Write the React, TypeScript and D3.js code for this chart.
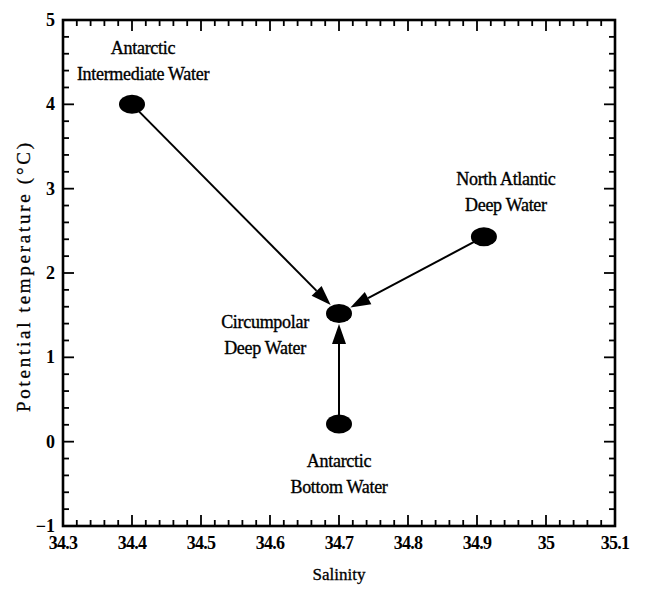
import React from "react";
import * as d3 from "d3";

// water masses: salinity, potential temperature, label lines
const names = ["AIW", "NADW", "CDW", "AABW"];
const salinity = [34.4, 34.91, 34.7, 34.7];
const theta = [4.0, 2.43, 1.52, 0.21];
const labelLines = [
  ["Antarctic", "Intermediate Water"],
  ["North Atlantic", "Deep Water"],
  ["Circumpolar", "Deep Water"],
  ["Antarctic", "Bottom Water"],
];
// label anchor offsets (in px from the point)
const labelDx = [11, 22, -74, 0];
const labelDy = [-50, -52, 15, 43];

// arrows: from -> to (indexes into the arrays above)
const arrowFrom = [0, 1, 3];
const arrowTo = [2, 2, 2];

const xTicks = [34.3, 34.4, 34.5, 34.6, 34.7, 34.8, 34.9, 35, 35.1];
const yTicks = [-1, 0, 1, 2, 3, 4, 5];

const W = 647;
const H = 589;
const left = 63;
const right = 615;
const top = 20;
const bottom = 526;
const font = "'Liberation Serif', 'Times New Roman', serif";

export default function App() {
  const x = d3.scaleLinear().domain([34.3, 35.1]).range([left, right]);
  const y = d3.scaleLinear().domain([-1, 5]).range([bottom, top]);

  const xMinor = d3.range(0, 41).map((i) => 34.3 + i * 0.02);
  const yMinor = d3.range(0, 31).map((i) => -1 + i * 0.2);
  const isMajor = (v: number) => Math.abs(v * 10 - Math.round(v * 10)) < 1e-6;
  const isMajorY = (v: number) => Math.abs(v - Math.round(v)) < 1e-6;

  const rx = 13;
  const ry = 9.5;

  const arrows = arrowFrom.map((f, k) => {
    const t = arrowTo[k];
    const x0 = x(salinity[f]);
    const y0 = y(theta[f]);
    const x1 = x(salinity[t]);
    const y1 = y(theta[t]);
    const dx = x1 - x0;
    const dy = y1 - y0;
    const len = Math.hypot(dx, dy);
    const ux = dx / len;
    const uy = dy / len;
    // stop at the ellipse edge
    const ang = Math.atan2(uy, ux);
    const edge = 1 / Math.sqrt((Math.cos(ang) / rx) ** 2 + (Math.sin(ang) / ry) ** 2);
    const tipX = x1 - ux * (edge + 1);
    const tipY = y1 - uy * (edge + 1);
    const headL = 20;
    const headW = 7;
    const bx = tipX - ux * headL;
    const by = tipY - uy * headL;
    const px = -uy;
    const py = ux;
    const head = `M${tipX},${tipY}L${bx + px * headW},${by + py * headW}L${bx - px * headW},${by - py * headW}Z`;
    return { x0, y0, bx, by, head };
  });

  return (
    <svg
      width={W}
      height={H}
      style={{ position: "absolute", left: 0, top: 0, background: "#fff" }}
      fontFamily={font}
    >
      {/* ticks on all four sides, pointing inward */}
      {xMinor.map((v, i) => {
        const len = isMajor(v) ? 11 : 6;
        return (
          <g key={"xt" + i} stroke="#000" strokeWidth={1.8}>
            <line x1={x(v)} x2={x(v)} y1={bottom} y2={bottom - len} />
            <line x1={x(v)} x2={x(v)} y1={top} y2={top + len} />
          </g>
        );
      })}
      {yMinor.map((v, i) => {
        const len = isMajorY(v) ? 11 : 6;
        return (
          <g key={"yt" + i} stroke="#000" strokeWidth={1.8}>
            <line x1={left} x2={left + len} y1={y(v)} y2={y(v)} />
            <line x1={right} x2={right - len} y1={y(v)} y2={y(v)} />
          </g>
        );
      })}
      <rect
        x={left}
        y={top}
        width={right - left}
        height={bottom - top}
        fill="none"
        stroke="#000"
        strokeWidth={2.6}
      />

      {xTicks.map((v) => (
        <text
          key={"xl" + v}
          x={x(v)}
          y={bottom + 23}
          textAnchor="middle"
          fontSize={18}
          fontWeight="bold"
          letterSpacing={-0.8}
        >
          {d3.format("~g")(v)}
        </text>
      ))}
      {yTicks.map((v) => (
        <text
          key={"yl" + v}
          x={left - 8}
          y={y(v) + 6}
          textAnchor="end"
          fontSize={18}
          fontWeight="bold"
        >
          {v < 0 ? "\u2212" + Math.abs(v) : v}
        </text>
      ))}

      <text x={x(34.7)} y={580} textAnchor="middle" fontSize={17} stroke="#000" strokeWidth={0.3}>
        Salinity
      </text>
      <text
        transform={`translate(30,${(143 + 412) / 2}) rotate(-90)`}
        textAnchor="middle"
        fontSize={19}
        textLength={269}
        lengthAdjust="spacing"
        stroke="#000"
        strokeWidth={0.3}
      >
        Potential temperature (°C)
      </text>

      {arrows.map((a, i) => (
        <g key={"ar" + i}>
          <line x1={a.x0} y1={a.y0} x2={a.bx} y2={a.by} stroke="#000" strokeWidth={2} />
          <path d={a.head} fill="#000" />
        </g>
      ))}

      {names.map((n, i) => (
        <ellipse
          key={n}
          cx={x(salinity[i])}
          cy={y(theta[i])}
          rx={rx}
          ry={ry}
          fill="#000"
        />
      ))}

      {names.map((n, i) => (
        <text
          key={"lab" + n}
          x={x(salinity[i]) + labelDx[i]}
          y={y(theta[i]) + labelDy[i]}
          textAnchor="middle"
          fontSize={18}
          letterSpacing={-0.3}
          stroke="#000"
          strokeWidth={0.35}
        >
          {labelLines[i].map((s, j) => (
            <tspan key={j} x={x(salinity[i]) + labelDx[i]} dy={j === 0 ? 0 : 26}>
              {s}
            </tspan>
          ))}
        </text>
      ))}
    </svg>
  );
}
